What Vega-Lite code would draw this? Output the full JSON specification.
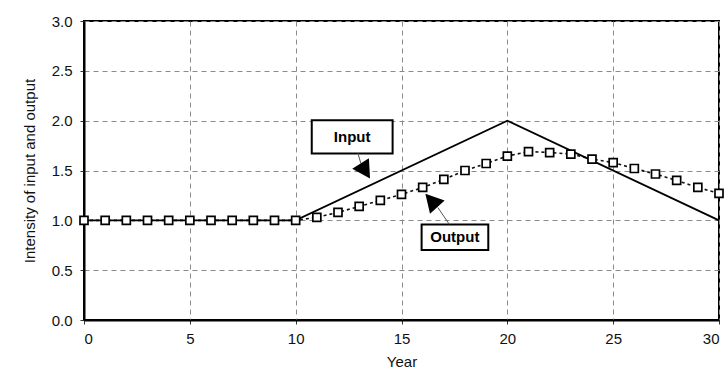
{
  "$schema": "https://vega.github.io/schema/vega-lite/v6.json",
  "width": 635,
  "height": 299,
  "autosize": {"type": "none"},
  "padding": {"left": 84, "top": 21, "right": 8, "bottom": 57},
  "background": "white",
  "config": {
    "font": "Liberation Sans",
    "view": {"stroke": "black", "strokeWidth": 2},
    "axis": {
      "labelFont": "Liberation Sans",
      "titleFont": "Liberation Sans",
      "titleFontWeight": "normal",
      "labelColor": "#111",
      "titleColor": "#111",
      "domainColor": "black",
      "domainWidth": 2,
      "tickColor": "#333",
      "tickSize": 4,
      "gridColor": "#8a8a8a",
      "gridDash": [5, 4],
      "gridWidth": 1
    }
  },
  "datasets": {
    "input": [
      {"year": 0, "value": 1.0},
      {"year": 10, "value": 1.0},
      {"year": 20, "value": 2.0},
      {"year": 30, "value": 1.0}
    ],
    "output": [
      {"year": 0, "value": 1.0},
      {"year": 1, "value": 1.0},
      {"year": 2, "value": 1.0},
      {"year": 3, "value": 1.0},
      {"year": 4, "value": 1.0},
      {"year": 5, "value": 1.0},
      {"year": 6, "value": 1.0},
      {"year": 7, "value": 1.0},
      {"year": 8, "value": 1.0},
      {"year": 9, "value": 1.0},
      {"year": 10, "value": 1.0},
      {"year": 11, "value": 1.03},
      {"year": 12, "value": 1.08},
      {"year": 13, "value": 1.14},
      {"year": 14, "value": 1.2},
      {"year": 15, "value": 1.26},
      {"year": 16, "value": 1.33},
      {"year": 17, "value": 1.41},
      {"year": 18, "value": 1.5},
      {"year": 19, "value": 1.57},
      {"year": 20, "value": 1.645},
      {"year": 21, "value": 1.69},
      {"year": 22, "value": 1.68},
      {"year": 23, "value": 1.665},
      {"year": 24, "value": 1.615},
      {"year": 25, "value": 1.58},
      {"year": 26, "value": 1.52},
      {"year": 27, "value": 1.465},
      {"year": 28, "value": 1.4},
      {"year": 29, "value": 1.33},
      {"year": 30, "value": 1.27}
    ],
    "boxes": [
      {"label": "Input", "x1": 10.76, "x2": 14.58, "y1": 2.005, "y2": 1.671, "tx": 12.67, "ty": 1.838},
      {"label": "Output", "x1": 15.95, "x2": 19.1, "y1": 0.959, "y2": 0.702, "tx": 17.52, "ty": 0.83}
    ],
    "arrows": [
      {"label": "Input", "x1": 12.94, "y1": 1.674, "x2": 13.08, "y2": 1.571, "hx": 13.29, "hy": 1.495, "angle": 148},
      {"label": "Output", "x1": 17.26, "y1": 0.959, "x2": 16.72, "y2": 1.128, "hx": 16.41, "hy": 1.199, "angle": 318}
    ]
  },
  "layer": [
    {
      "data": {"name": "output"},
      "mark": {"type": "line", "color": "#111", "strokeWidth": 1.6, "strokeDash": [3, 3]},
      "encoding": {
        "x": {
          "field": "year", "type": "quantitative",
          "scale": {"domain": [0, 30], "nice": false, "zero": false},
          "axis": {"title": "Year", "values": [0, 5, 10, 15, 20, 25, 30], "labelFontSize": 15, "titleFontSize": 15, "labelPadding": 7, "titlePadding": 8, "grid": true}
        },
        "y": {
          "field": "value", "type": "quantitative",
          "scale": {"domain": [0, 3], "nice": false},
          "axis": {"title": "Intensity of input and output", "values": [0, 0.5, 1, 1.5, 2, 2.5, 3], "format": ".1f", "labelFontSize": 15, "titleFontSize": 15, "labelPadding": 8, "titlePadding": 14, "grid": true}
        }
      }
    },
    {
      "data": {"name": "input"},
      "mark": {"type": "line", "color": "black", "strokeWidth": 1.8},
      "encoding": {
        "x": {"field": "year", "type": "quantitative"},
        "y": {"field": "value", "type": "quantitative"}
      }
    },
    {
      "data": {"name": "output"},
      "mark": {"type": "point", "shape": "square", "size": 64, "filled": false, "fill": "white", "fillOpacity": 1, "stroke": "black", "strokeWidth": 1.7, "opacity": 1},
      "encoding": {
        "x": {"field": "year", "type": "quantitative"},
        "y": {"field": "value", "type": "quantitative"}
      }
    },
    {
      "data": {"name": "boxes"},
      "mark": {"type": "rect", "fill": "white", "stroke": "black", "strokeWidth": 2},
      "encoding": {
        "x": {"field": "x1", "type": "quantitative"},
        "x2": {"field": "x2"},
        "y": {"field": "y1", "type": "quantitative"},
        "y2": {"field": "y2"}
      }
    },
    {
      "data": {"name": "boxes"},
      "mark": {"type": "text", "fontWeight": "bold", "fontSize": 15, "color": "black", "baseline": "middle", "align": "center"},
      "encoding": {
        "x": {"field": "tx", "type": "quantitative"},
        "y": {"field": "ty", "type": "quantitative"},
        "text": {"field": "label"}
      }
    },
    {
      "data": {"name": "arrows"},
      "mark": {"type": "rule", "color": "#555", "strokeWidth": 1},
      "encoding": {
        "x": {"field": "x1", "type": "quantitative"},
        "y": {"field": "y1", "type": "quantitative"},
        "x2": {"field": "x2"},
        "y2": {"field": "y2"}
      }
    },
    {
      "data": {"name": "arrows"},
      "mark": {"type": "point", "shape": "M-1.1,1L1.1,1L0,-1Z", "filled": true, "color": "black", "opacity": 1, "size": 320},
      "encoding": {
        "x": {"field": "hx", "type": "quantitative"},
        "y": {"field": "hy", "type": "quantitative"},
        "angle": {"field": "angle", "type": "quantitative", "scale": null}
      }
    }
  ]
}
